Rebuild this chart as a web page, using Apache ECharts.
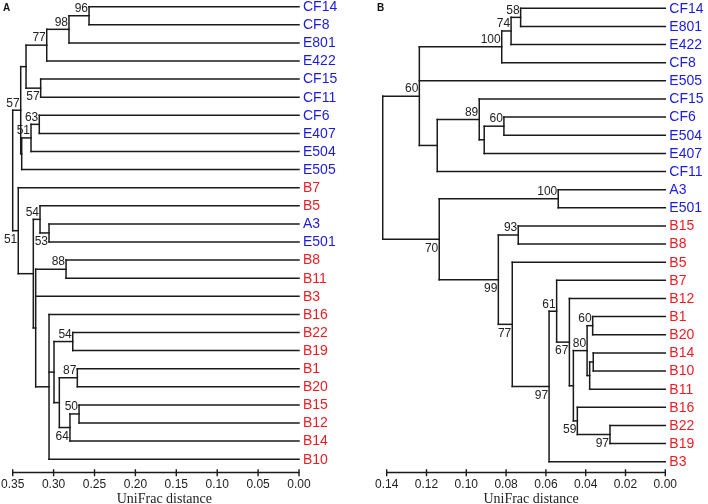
<!DOCTYPE html>
<html>
<head>
<meta charset="utf-8">
<script src="https://cdn.jsdelivr.net/npm/echarts@6/dist/echarts.min.js"></script>
<style>html,body{margin:0;padding:0;background:#fff}#c{width:708px;height:504px}</style>
</head>
<body>
<div id="c"></div>
<script>
// ---------- Data: panel A ----------
const leavesA = ['CF14','CF8','E801','E422','CF15','CF11','CF6','E407','E504','E505','B7','B5','A3','E501','B8','B11','B3','B16','B22','B19','B1','B20','B15','B12','B14','B10'];
// [id, children, distance (height), bootstrap]
const nodesA = [
  ['a1', ['CF14','CF8'], 0.2567, 96],
  ['a2', ['a1','E801'], 0.2812, 98],
  ['a3', ['a2','E422'], 0.3084, 77],
  ['a4', ['CF15','CF11'], 0.3158, 57],
  ['a5', ['a3','a4'], 0.3337, null],
  ['a6', ['CF6','E407'], 0.3175, 63],
  ['a7', ['a6','E504'], 0.3276, 51],
  ['a8', ['a7','E505'], 0.3390, null],
  ['a9', ['a5','a8'], 0.3402, 57],
  ['a10', ['A3','E501'], 0.3056, 53],
  ['a11', ['B5','a10'], 0.3166, 54],
  ['a12', ['B8','B11'], 0.2848, 88],
  ['a13', ['B22','B19'], 0.2766, 54],
  ['a14', ['B1','B20'], 0.2710, 87],
  ['a15', ['B15','B12'], 0.2689, 50],
  ['a16', ['a15','B14'], 0.2800, 64],
  ['a17', ['a14','a16'], 0.2930, null],
  ['a18', ['a13','a17'], 0.2995, null],
  ['a19', ['B16','a18','B10'], 0.3056, null],
  ['a20', ['a12','B3','a19'], 0.3219, null],
  ['a21', ['a11','a20'], 0.3248, null],
  ['a22', ['B7','a21'], 0.3432, 51],
  ['a23', ['a9','a22'], 0.3500, null]
];
const belowA = ['a4','a10','a16','a22'];
const ticksA = [0, 0.05, 0.10, 0.15, 0.20, 0.25, 0.30, 0.35];

// ---------- Data: panel B ----------
const leavesB = ['CF14','E801','E422','CF8','E505','CF15','CF6','E504','E407','CF11','A3','E501','B15','B8','B5','B7','B12','B1','B20','B14','B10','B11','B16','B22','B19','B3'];
const nodesB = [
  ['b1', ['CF14','E801'], 0.0727, 58],
  ['b2', ['b1','E422'], 0.0775, 74],
  ['b3', ['b2','CF8'], 0.0822, 100],
  ['b4', ['CF6','E504'], 0.0811, 60],
  ['b5', ['b4','E407'], 0.0910, null],
  ['b6', ['CF15','b5'], 0.0935, 89],
  ['b7', ['b6','CF11'], 0.1146, null],
  ['b8', ['b3','E505','b7'], 0.1236, 60],
  ['b9', ['A3','E501'], 0.0538, 100],
  ['b10', ['B15','B8'], 0.0739, 93],
  ['b11', ['B1','B20'], 0.0365, 60],
  ['b12', ['B14','B10'], 0.0362, null],
  ['b13', ['b12','B11'], 0.0380, null],
  ['b14', ['b11','b13'], 0.0393, 80],
  ['b15', ['B22','B19'], 0.0278, 97],
  ['b16', ['B16','b15'], 0.0442, 59],
  ['b17', ['b14','b16'], 0.0462, null],
  ['b18', ['B12','b17'], 0.0482, 67],
  ['b19', ['B7','b18'], 0.0546, 61],
  ['b20', ['b19','B3'], 0.0584, 97],
  ['b21', ['B5','b20'], 0.0769, 77],
  ['b22', ['b10','b21'], 0.0839, 99],
  ['b23', ['b9','b22'], 0.1136, 70],
  ['b24', ['b8','b23'], 0.1420, null]
];
const belowB = ['b15','b16','b18','b20','b21','b22','b23'];
const ticksB = [0, 0.02, 0.04, 0.06, 0.08, 0.10, 0.12, 0.14];

// group colours: B-strains red, others blue
const BLUE = '#1b1be0', RED = '#ec1c24';
const FONT = 'Liberation Sans, Arial, sans-serif';
const INK = '#1a1a1a';

function buildTree(leaves, nodes, below) {
  const pos = {};
  leaves.forEach((n, i) => { pos[n] = {d: 0, y: i}; });
  const parentOf = {};
  nodes.forEach(([id, ch, d]) => {
    const ys = ch.map(c => pos[c].y);
    pos[id] = {d: d, y: (Math.min(...ys) + Math.max(...ys)) / 2, y0: Math.min(...ys), y1: Math.max(...ys)};
    ch.forEach(c => parentOf[c] = id);
  });
  const segs = [];
  Object.keys(pos).forEach(k => {
    const p = parentOf[k];
    if (p) segs.push([pos[k].d, pos[k].y, pos[p].d, pos[k].y]);
  });
  nodes.forEach(([id]) => {
    segs.push([pos[id].d, pos[id].y0, pos[id].d, pos[id].y1]);
  });
  const boots = nodes.filter(n => n[3] != null).map(n => [pos[n[0]].d, pos[n[0]].y, n[3], below.includes(n[0]) ? 1 : 0]);
  const leafLab = leaves.map((n, i) => [0, i, n]);
  return {segs, boots, leafLab};
}

const TA = buildTree(leavesA, nodesA, belowA);
const TB = buildTree(leavesB, nodesB, belowB);

function lineSeries(T, idx) {
  return {
    type: 'custom', xAxisIndex: idx, yAxisIndex: idx, clip: false, silent: true,
    data: T.segs,
    renderItem: (params, api) => {
      const s = T.segs[params.dataIndex];
      const a = api.coord([s[0], s[1]]);
      const b = api.coord([s[2], s[3]]);
      return {type: 'line', shape: {x1: a[0], y1: a[1], x2: b[0], y2: b[1]},
        style: {stroke: INK, lineWidth: 1.5, lineCap: 'square'}};
    }
  };
}
function bootSeries(T, idx) {
  return {
    type: 'custom', xAxisIndex: idx, yAxisIndex: idx, clip: false, silent: true,
    data: T.boots,
    renderItem: (params, api) => {
      const item = T.boots[params.dataIndex];
      const p = api.coord([item[0], item[1]]);
      return {type: 'text', x: p[0] - 1, y: item[3] ? p[1] + 9 : p[1] - 7,
        style: {text: String(item[2]), fill: '#222', font: '12px ' + FONT, textAlign: 'right', textVerticalAlign: 'middle'}};
    }
  };
}
function leafSeries(T, idx) {
  return {
    type: 'custom', xAxisIndex: idx, yAxisIndex: idx, clip: false, silent: true,
    data: T.leafLab,
    renderItem: (params, api) => {
      const item = T.leafLab[params.dataIndex];
      const p = api.coord([item[0], item[1]]);
      return {type: 'text', x: p[0] + 4, y: p[1] + 0.5,
        style: {text: item[2], fill: item[2].charAt(0) === 'B' ? RED : BLUE, font: '14px ' + FONT, textAlign: 'left', textVerticalAlign: 'middle'}};
    }
  };
}
// crossing tick marks drawn on the axis line (axis line sits `off` px below the last row)
function tickSeries(ticks, idx, off) {
  return {
    type: 'custom', xAxisIndex: idx, yAxisIndex: idx, clip: false, silent: true,
    data: ticks.map(t => [t, 25]),
    renderItem: (params, api) => {
      const p = api.coord([ticks[params.dataIndex], 25]);
      const y = p[1] + off;
      return {type: 'line', shape: {x1: p[0], y1: y - 3.5, x2: p[0], y2: y + 3.5},
        style: {stroke: INK, lineWidth: 1.4}};
    }
  };
}

function xAxis(grid, max, interval, offset, ticks, namePad) {
  return {
    gridIndex: grid, type: 'value', min: 0, max: max, interval: interval, inverse: true,
    position: 'bottom', offset: offset, splitLine: {show: false},
    axisLine: {show: true, onZero: false, lineStyle: {color: INK, width: 1.3}},
    axisTick: {show: false},
    axisLabel: {show: true, margin: 6, color: '#222', fontSize: 12, fontFamily: FONT,
      formatter: v => ticks.some(t => Math.abs(t - v) < 1e-9) ? v.toFixed(2) : ''},
    name: 'UniFrac distance', nameLocation: 'middle', nameGap: 20, nameMoveOverlap: false,
    nameTextStyle: {fontFamily: 'Liberation Serif, Times New Roman, serif', fontSize: 14, color: '#222', padding: namePad}
  };
}

const chart = echarts.init(document.getElementById('c'), null, {renderer: 'canvas'});
chart.setOption({
  animation: false,
  backgroundColor: '#fff',
  grid: [
    {left: 12.7, top: 6.7, width: 286.3, height: 452.5, outerBoundsMode: 'none', containLabel: false},
    {left: 386.7, top: 8.3, width: 278.6, height: 453.4, outerBoundsMode: 'none', containLabel: false}
  ],
  xAxis: [xAxis(0, 0.35, 0.05, 13.5, ticksA, [0, 0, 0, 17]), xAxis(1, 0.14, 0.02, 11, ticksB, [0, 0, 0, 10])],
  yAxis: [
    {gridIndex: 0, type: 'value', min: 0, max: 25, inverse: true, show: false},
    {gridIndex: 1, type: 'value', min: 0, max: 25, inverse: true, show: false}
  ],
  graphic: [
    {type: 'text', left: 3, top: 3, style: {text: 'A', font: 'bold 10px ' + FONT, fill: '#111'}},
    {type: 'text', left: 377, top: 3, style: {text: 'B', font: 'bold 10px ' + FONT, fill: '#111'}}
  ],
  series: [
    lineSeries(TA, 0), bootSeries(TA, 0), leafSeries(TA, 0), tickSeries(ticksA, 0, 13.5),
    lineSeries(TB, 1), bootSeries(TB, 1), leafSeries(TB, 1), tickSeries(ticksB, 1, 11)
  ]
});
</script>
</body>
</html>
